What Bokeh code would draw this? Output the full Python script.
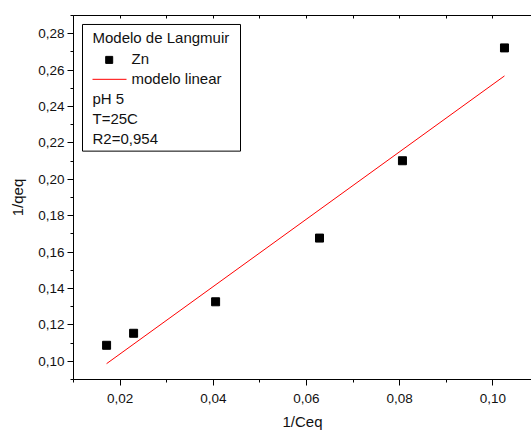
from bokeh.plotting import figure
from bokeh.models import (LinearAxis, FixedTicker, Range1d, Label, BoxAnnotation)
from bokeh.embed import file_html
from bokeh.resources import INLINE

# ---- data ----
inv_ceq = [0.0171, 0.0229, 0.0405, 0.0628, 0.0806, 0.1025]
inv_qeq = [0.1088, 0.1154, 0.1327, 0.1677, 0.2102, 0.2722]
fit_x = [0.0171, 0.1025]
fit_y = [0.0987, 0.2568]

x_major = [0.02, 0.04, 0.06, 0.08, 0.10]
x_major_labels = ["0,02", "0,04", "0,06", "0,08", "0,10"]
x_minor = [0.01, 0.03, 0.05, 0.07, 0.09, 0.11]
y_major = [0.10, 0.12, 0.14, 0.16, 0.18, 0.20, 0.22, 0.24, 0.26, 0.28]
y_major_labels = ["0,10", "0,12", "0,14", "0,16", "0,18", "0,20", "0,22", "0,24", "0,26", "0,28"]
y_minor = [0.09, 0.11, 0.13, 0.15, 0.17, 0.19, 0.21, 0.23, 0.25, 0.27, 0.29]

legend_title = "Modelo de Langmuir"
series_name = "Zn"
fit_name = "modelo linear"
notes = ["pH 5", "T=25C", "R2=0,954"]

# ---- layout ----
W, H = 531, 432
L, R, T, B = 73, 0, 15, 52
X0, X1 = 0.01, 0.1083
Y0, Y1 = 0.09, 0.29
FONT = "Liberation Sans"

p = figure(width=W, height=H, output_backend="svg", toolbar_location=None,
           x_range=Range1d(X0, X1), y_range=Range1d(Y0, Y1),
           min_border_left=L, min_border_right=R, min_border_top=T, min_border_bottom=B,
           x_axis_label="1/Ceq", y_axis_label="1/qeq")
p.outline_line_color = None
p.grid.visible = False
p.background_fill_color = "white"
p.border_fill_color = "white"

xt = FixedTicker(ticks=x_major, minor_ticks=x_minor)
yt = FixedTicker(ticks=y_major, minor_ticks=y_minor)

for ax, tk, ticks, labels in ((p.xaxis[0], xt, x_major, x_major_labels),
                              (p.yaxis[0], yt, y_major, y_major_labels)):
    ax.ticker = tk
    ax.major_label_overrides = {t: s for t, s in zip(ticks, labels)}
    ax.axis_line_color = "black"
    ax.major_tick_line_color = "black"
    ax.minor_tick_line_color = "black"
    ax.major_tick_in = 0
    ax.major_tick_out = 6
    ax.minor_tick_in = 0
    ax.minor_tick_out = 3
    ax.major_label_text_font = FONT
    ax.major_label_text_font_size = "13.5px"
    ax.major_label_text_color = "#111111"
    ax.axis_label_text_font = FONT
    ax.axis_label_text_font_size = "15px"
    ax.axis_label_text_font_style = "normal"
    ax.axis_label_text_color = "#111111"

p.xaxis[0].major_label_standoff = 8
p.xaxis[0].axis_label_standoff = 7
p.yaxis[0].major_label_standoff = 3
p.yaxis[0].axis_label_standoff = 9

# top frame line with small inward ticks, no labels (only minor ticks used)
top_ticker = FixedTicker(ticks=[], minor_ticks=sorted(x_major + x_minor))
top = LinearAxis(ticker=top_ticker, minor_tick_in=3, minor_tick_out=0,
                 major_tick_in=0, major_tick_out=0, major_label_standoff=0,
                 axis_line_color="black", minor_tick_line_color="black")
p.add_layout(top, "above")

# ---- data marks ----
p.line(fit_x, fit_y, line_color="#ff0000", line_width=1)
p.scatter(inv_ceq, inv_qeq, marker="square", size=8, fill_color="black", line_color="black")

# ---- legend box (drawn manually, positions in screen pixels converted to data) ----
FW = W - L - R
FH = H - T - B
def dx(px):
    return X0 + (px - L) / FW * (X1 - X0)
def dy(py):
    return Y1 - (py - T) / FH * (Y1 - Y0)

p.add_layout(BoxAnnotation(left=dx(82), right=dx(240), top=dy(24), bottom=dy(151),
                           fill_color="white", fill_alpha=1.0, line_color="black",
                           line_width=1, line_alpha=1.0, level="underlay"))

def txt(s, px, py):
    p.add_layout(Label(x=dx(px), y=dy(py), text=s, text_font=FONT, text_font_size="15px",
                       text_baseline="alphabetic", text_align="left", text_color="#111111"))

txt(legend_title, 92, 37.5)
p.scatter([dx(108.7)], [dy(59.5)], marker="square", size=7, fill_color="black", line_color="black")
txt(series_name, 131, 58)
p.line([dx(92), dx(126)], [dy(79), dy(79)], line_color="#ff0000", line_width=1)
txt(fit_name, 131, 78)
for i, s in enumerate(notes):
    txt(s, 92, 98.5 + 20.0 * i)

open("out.html", "w").write(file_html(p, INLINE))
